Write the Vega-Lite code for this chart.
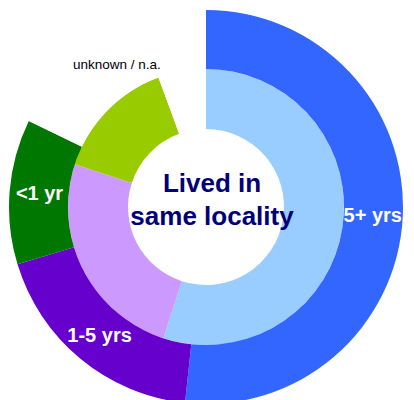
{
  "$schema": "https://vega.github.io/schema/vega-lite/v6.json",
  "autosize": {"type": "none"},
  "padding": {"left": 0, "top": 14, "right": 2, "bottom": 0},
  "width": 412,
  "height": 386,
  "background": "white",
  "config": {"view": {"stroke": null}, "font": "Liberation Sans"},
  "data": {
    "values": [
      {"ring": "inner", "cat": "5+ yrs", "pct": 55.0, "rank": 1},
      {"ring": "inner", "cat": "1-5 yrs", "pct": 25.0, "rank": 2},
      {"ring": "inner", "cat": "<1 yr", "pct": 14.4, "rank": 3},
      {"ring": "inner", "cat": "unknown / n.a.", "pct": 5.6, "rank": 4},
      {"ring": "outer", "cat": "5+ yrs", "pct": 51.7, "rank": 1},
      {"ring": "outer", "cat": "1-5 yrs", "pct": 18.6, "rank": 2},
      {"ring": "outer", "cat": "<1 yr", "pct": 11.9, "rank": 3},
      {"ring": "outer", "cat": "unknown / n.a.", "pct": 17.8, "rank": 4}
    ]
  },
  "layer": [
    {
      "transform": [{"filter": "datum.ring === 'inner'"}],
      "mark": {"type": "arc", "innerRadius": 78, "outerRadius": 138},
      "encoding": {
        "theta": {"field": "pct", "type": "quantitative", "stack": true},
        "order": {"field": "rank", "type": "quantitative"},
        "color": {
          "field": "cat", "type": "nominal", "legend": null,
          "scale": {"domain": ["5+ yrs", "1-5 yrs", "<1 yr", "unknown / n.a."], "range": ["#99CCFF", "#CC99FF", "#99CC00", "#FFFFFF"]}
        }
      }
    },
    {
      "transform": [{"filter": "datum.ring === 'outer'"}],
      "mark": {"type": "arc", "innerRadius": 138, "outerRadius": 197},
      "encoding": {
        "theta": {"field": "pct", "type": "quantitative", "stack": true},
        "order": {"field": "rank", "type": "quantitative"},
        "color": {
          "field": "cat", "type": "nominal", "legend": null,
          "scale": {"domain": ["5+ yrs", "1-5 yrs", "<1 yr", "unknown / n.a."], "range": ["#3366FF", "#6600CC", "#007700", "#FFFFFF"]}
        }
      }
    },
    {
      "transform": [{"filter": "datum.ring === 'outer'"}],
      "mark": {"type": "text", "radius": 167, "fontSize": 20, "fontWeight": "bold", "color": "white", "align": "center", "baseline": "middle"},
      "encoding": {
        "theta": {"field": "pct", "type": "quantitative", "stack": true},
        "order": {"field": "rank", "type": "quantitative"},
        "text": {"condition": {"test": "datum.cat === 'unknown / n.a.'", "value": ""}, "field": "cat", "type": "nominal"}
      }
    },
    {
      "transform": [{"filter": "datum.ring === 'outer'"}],
      "mark": {"type": "text", "radius": 168, "fontSize": 13.5, "color": "black", "align": "center", "baseline": "middle"},
      "encoding": {
        "theta": {"field": "pct", "type": "quantitative", "stack": true},
        "order": {"field": "rank", "type": "quantitative"},
        "text": {"condition": {"test": "datum.cat !== 'unknown / n.a.'", "value": ""}, "field": "cat", "type": "nominal"}
      }
    },
    {
      "data": {"values": [{"title": "Lived in same locality"}]},
      "mark": {"type": "text", "text": ["Lived in", "same locality"], "fontSize": 26, "fontWeight": "bold", "color": "#000077", "align": "center", "baseline": "middle", "lineHeight": 33, "dx": 6, "dy": -23},
      "encoding": {}
    }
  ],
  "resolve": {"scale": {"color": "independent"}}
}
